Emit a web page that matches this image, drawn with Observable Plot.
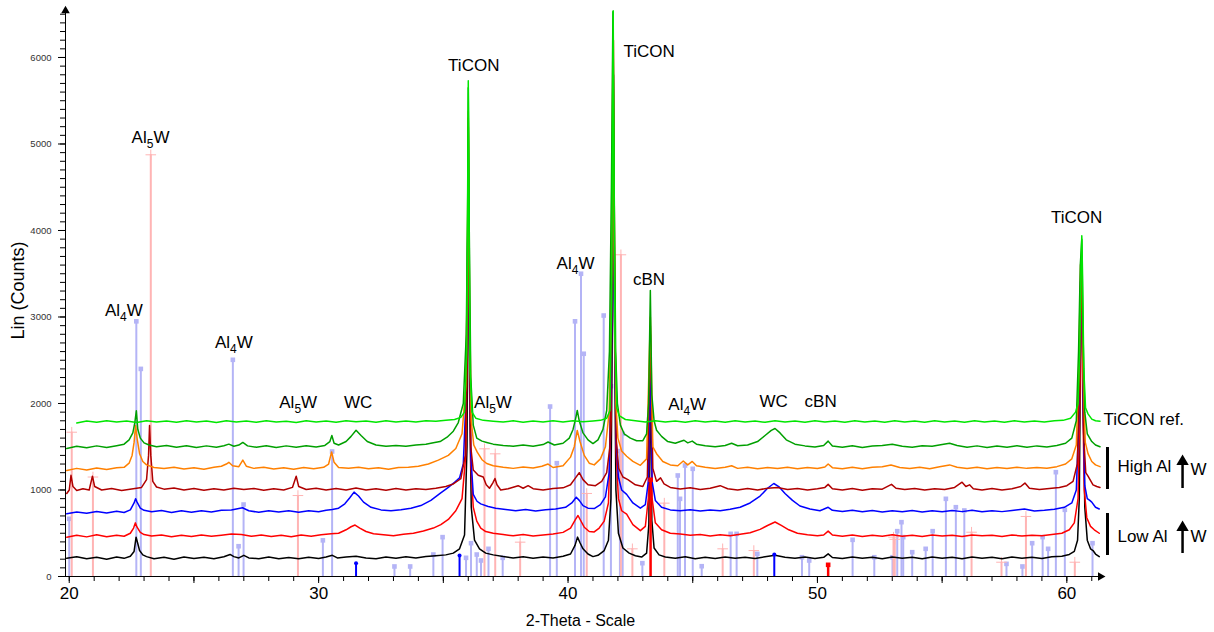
<!DOCTYPE html>
<html><head><meta charset="utf-8">
<script src="https://cdn.jsdelivr.net/npm/d3@7"></script>
<script src="https://cdn.jsdelivr.net/npm/@observablehq/plot@0.6"></script>
<style>body{margin:0;background:#fff;} #chart{width:1214px;height:632px;}</style>
</head><body><div id="chart"></div>
<script>
// ---- Data (2-Theta, Lin counts) ----
const blackScan = [[19.9,210],[20.3,228],[20.7,205],[21.1,222],[21.5,200],[21.9,225],[22.2,210],[22.45,235],[22.6,290],[22.68,455],[22.74,390],[22.82,300],[22.95,250],[23.1,230],[23.4,205],[23.8,222],[24.2,200],[24.6,225],[25.0,208],[25.4,222],[25.8,205],[26.2,228],[26.45,255],[26.6,230],[26.8,215],[27.0,245],[27.2,215],[27.6,205],[28.0,225],[28.4,205],[28.8,220],[29.2,205],[29.6,222],[30.0,208],[30.3,225],[30.55,245],[30.75,215],[31.1,225],[31.5,235],[31.9,215],[32.3,205],[32.7,225],[33.1,210],[33.5,228],[33.9,215],[34.3,230],[34.7,240],[35.1,250],[35.4,270],[35.65,320],[35.85,480],[35.95,1500],[36.0,4800],[36.05,2200],[36.12,800],[36.25,420],[36.45,320],[36.7,270],[37.0,250],[37.4,230],[37.8,215],[38.2,228],[38.6,210],[39.0,225],[39.4,215],[39.8,235],[40.1,260],[40.28,360],[40.38,455],[40.48,390],[40.6,320],[40.8,260],[41.0,230],[41.2,245],[41.45,300],[41.62,420],[41.72,900],[41.78,3000],[41.82,5800],[41.86,3000],[41.92,1000],[42.02,500],[42.2,330],[42.45,270],[42.7,240],[42.95,225],[43.15,270],[43.24,600],[43.3,2500],[43.36,650],[43.45,330],[43.65,250],[43.9,225],[44.3,210],[44.7,228],[45.1,205],[45.5,222],[45.9,208],[46.3,225],[46.7,210],[47.1,222],[47.5,208],[47.9,228],[48.3,245],[48.7,222],[49.1,210],[49.5,225],[49.9,208],[50.25,222],[50.43,262],[50.6,220],[51.0,208],[51.4,225],[51.8,210],[52.2,222],[52.6,205],[53.0,225],[53.4,210],[53.8,222],[54.2,205],[54.6,225],[55.0,210],[55.4,222],[55.8,205],[56.2,225],[56.6,210],[57.0,222],[57.4,205],[57.8,225],[58.2,210],[58.6,222],[59.0,208],[59.4,228],[59.8,235],[60.1,255],[60.3,290],[60.43,420],[60.5,900],[60.56,3000],[60.6,3500],[60.65,2200],[60.72,800],[60.82,420],[60.95,320],[61.05,300],[61.15,260],[61.3,230]];

const redScan = [[19.9,455],[20.3,478],[20.7,458],[21.1,482],[21.5,460],[21.9,478],[22.2,465],[22.45,500],[22.58,560],[22.65,620],[22.72,570],[22.85,510],[23.0,485],[23.3,468],[23.7,480],[24.1,460],[24.5,478],[24.9,462],[25.3,480],[25.7,465],[26.1,478],[26.5,490],[26.9,485],[27.3,465],[27.7,480],[28.1,462],[28.5,478],[28.9,460],[29.3,480],[29.7,465],[30.1,482],[30.5,495],[30.8,500],[31.1,540],[31.3,575],[31.46,595],[31.65,560],[31.9,520],[32.2,495],[32.6,482],[33.0,470],[33.4,488],[33.8,500],[34.2,525],[34.6,560],[34.9,600],[35.2,660],[35.5,760],[35.75,900],[35.9,1400],[35.97,3000],[36.0,5300],[36.04,3000],[36.1,1300],[36.2,800],[36.34,640],[36.5,560],[36.7,520],[37.0,500],[37.4,485],[37.8,470],[38.2,485],[38.6,468],[39.0,480],[39.4,490],[39.8,510],[40.1,560],[40.3,660],[40.4,705],[40.5,650],[40.65,570],[40.85,520],[41.05,515],[41.25,560],[41.45,640],[41.62,850],[41.72,1800],[41.78,4000],[41.82,6200],[41.86,4000],[41.92,1500],[42.02,900],[42.15,760],[42.35,720],[42.6,600],[42.9,530],[43.1,580],[43.22,900],[43.3,2900],[43.37,900],[43.5,620],[43.75,540],[44.1,500],[44.5,490],[44.9,478],[45.3,485],[45.7,468],[46.1,482],[46.5,470],[46.9,488],[47.3,505],[47.7,545],[48.0,590],[48.3,630],[48.55,590],[48.85,540],[49.2,500],[49.6,482],[50.0,470],[50.25,480],[50.43,525],[50.6,480],[51.0,465],[51.4,480],[51.8,462],[52.2,478],[52.6,465],[53.0,482],[53.4,465],[53.8,478],[54.2,462],[54.6,480],[55.0,468],[55.4,478],[55.8,462],[56.2,480],[56.6,470],[57.0,478],[57.4,462],[57.8,480],[58.2,468],[58.6,478],[59.0,470],[59.4,485],[59.8,500],[60.1,540],[60.3,620],[60.45,900],[60.52,2000],[60.58,3600],[60.63,2200],[60.7,1000],[60.8,680],[60.95,580],[61.1,540],[61.3,500]];

const blueScan = [[19.9,725],[20.3,745],[20.7,730],[21.1,752],[21.5,735],[21.9,755],[22.2,740],[22.45,770],[22.6,850],[22.66,900],[22.72,860],[22.85,790],[23.0,765],[23.3,748],[23.7,762],[24.1,740],[24.5,760],[24.9,742],[25.3,760],[25.7,745],[26.1,765],[26.5,770],[26.95,795],[27.2,760],[27.6,742],[28.0,760],[28.4,745],[28.8,760],[29.2,742],[29.6,760],[30.0,748],[30.3,765],[30.55,775],[30.8,790],[31.05,840],[31.25,910],[31.42,975],[31.6,930],[31.8,860],[32.1,800],[32.5,770],[32.9,760],[33.3,772],[33.7,790],[34.1,820],[34.5,880],[34.87,960],[35.2,1030],[35.45,1090],[35.65,1140],[35.8,1300],[35.9,2000],[35.96,3500],[36.0,4400],[36.04,3000],[36.1,1400],[36.2,950],[36.35,870],[36.5,840],[36.8,810],[37.1,790],[37.5,775],[37.9,760],[38.3,775],[38.7,758],[39.1,772],[39.5,780],[39.9,800],[40.15,850],[40.33,917],[40.45,880],[40.6,820],[40.8,790],[41.05,785],[41.3,830],[41.5,920],[41.65,1200],[41.74,2500],[41.8,5500],[41.85,3500],[41.92,1600],[42.02,1150],[42.15,1000],[42.35,950],[42.6,850],[42.9,790],[43.1,830],[43.22,1100],[43.3,2613],[43.37,1100],[43.5,880],[43.75,800],[44.1,770],[44.5,760],[44.9,772],[45.3,758],[45.7,770],[46.1,760],[46.5,778],[46.9,800],[47.3,850],[47.7,930],[48.0,1020],[48.25,1075],[48.45,1040],[48.7,960],[49.0,880],[49.3,815],[49.7,780],[50.1,760],[50.43,800],[50.6,765],[51.0,752],[51.4,765],[51.8,748],[52.2,762],[52.6,745],[53.0,760],[53.4,748],[53.8,762],[54.2,745],[54.6,760],[55.0,748],[55.4,762],[55.8,750],[56.2,765],[56.6,748],[57.0,760],[57.4,750],[57.8,762],[58.3,780],[58.7,758],[59.1,765],[59.5,778],[59.9,800],[60.2,850],[60.38,1000],[60.48,1800],[60.55,3400],[60.6,3500],[60.65,2000],[60.72,1050],[60.82,900],[60.92,880],[61.0,860],[61.15,800],[61.3,780]];

const darkRedScan = [[19.9,960],[20.0,1000],[20.07,1170],[20.15,1040],[20.3,995],[20.55,1015],[20.8,1000],[20.93,1160],[21.02,1040],[21.3,1000],[21.7,1018],[22.1,995],[22.5,1012],[22.9,1030],[23.1,1120],[23.18,1400],[23.22,1745],[23.27,1400],[23.35,1100],[23.5,1035],[23.8,1010],[24.2,1022],[24.6,1000],[25.0,1018],[25.4,998],[25.8,1015],[26.2,1000],[26.6,1020],[27.0,1005],[27.4,1018],[27.8,998],[28.2,1015],[28.6,1000],[28.95,1030],[29.1,1160],[29.2,1040],[29.5,1005],[29.9,1020],[30.3,1000],[30.7,1018],[31.1,1000],[31.5,1022],[31.9,1000],[32.3,1015],[32.7,998],[33.1,1018],[33.5,1000],[33.9,1015],[34.3,1005],[34.7,1020],[35.1,1040],[35.4,1070],[35.7,1130],[35.88,1400],[35.96,3000],[36.0,5200],[36.04,3000],[36.1,1500],[36.2,1230],[36.4,1170],[36.6,1150],[36.72,1060],[36.85,1020],[36.98,1080],[37.07,1133],[37.15,1060],[37.3,1000],[37.6,1015],[38.0,1050],[38.2,1020],[38.4,1050],[38.6,1015],[39.0,1000],[39.4,1018],[39.8,1025],[40.1,1060],[40.3,1140],[40.45,1200],[40.6,1120],[40.8,1060],[41.1,1050],[41.35,1100],[41.55,1200],[41.68,1500],[41.76,3500],[41.81,6000],[41.86,3500],[41.93,1600],[42.03,1250],[42.2,1150],[42.4,1120],[42.7,1060],[43.0,1040],[43.18,1150],[43.3,2800],[43.4,1250],[43.55,1100],[43.71,1140],[43.85,1070],[44.1,1030],[44.5,1012],[44.9,1025],[45.3,1005],[45.7,1020],[46.1,1050],[46.4,1015],[46.8,1000],[47.2,1018],[47.6,1000],[48.0,1020],[48.4,1030],[48.8,1005],[49.2,1018],[49.6,1000],[50.0,1015],[50.3,1030],[50.43,1065],[50.6,1015],[51.0,1000],[51.4,1018],[51.8,998],[52.2,1015],[52.6,1010],[52.97,1065],[53.15,1020],[53.5,1005],[53.9,1018],[54.3,1000],[54.7,1015],[55.1,1005],[55.5,1030],[55.7,1070],[55.8,1090],[55.95,1040],[56.1,1060],[56.25,1015],[56.6,1000],[57.0,1018],[57.4,1000],[57.8,1015],[58.15,1040],[58.32,1080],[58.5,1020],[58.9,1005],[59.3,1018],[59.7,1030],[60.0,1050],[60.25,1100],[60.42,1300],[60.5,2200],[60.57,3500],[60.62,3000],[60.68,1600],[60.76,1200],[60.85,1160],[60.93,1120],[61.05,1060],[61.2,1040],[61.33,1030]];

const orangeScan = [[19.9,1225],[20.3,1250],[20.7,1232],[21.1,1255],[21.5,1238],[21.9,1258],[22.2,1262],[22.4,1310],[22.52,1400],[22.6,1550],[22.66,1745],[22.72,1600],[22.82,1420],[22.95,1330],[23.1,1290],[23.4,1260],[23.8,1248],[24.2,1262],[24.6,1242],[25.0,1258],[25.4,1240],[25.8,1262],[26.1,1275],[26.3,1300],[26.4,1320],[26.55,1280],[26.8,1270],[26.96,1345],[27.1,1275],[27.4,1250],[27.8,1262],[28.2,1242],[28.6,1258],[29.0,1240],[29.4,1260],[29.8,1245],[30.2,1262],[30.4,1300],[30.52,1440],[30.62,1320],[30.8,1260],[31.2,1252],[31.6,1262],[32.0,1245],[32.4,1258],[32.8,1240],[33.2,1260],[33.6,1262],[34.0,1275],[34.4,1300],[34.8,1345],[35.2,1400],[35.5,1480],[35.75,1650],[35.9,2200],[35.96,3500],[36.0,5380],[36.05,3200],[36.12,1800],[36.22,1520],[36.36,1437],[36.55,1350],[36.74,1306],[37.0,1280],[37.4,1262],[37.8,1250],[38.2,1265],[38.6,1255],[38.95,1275],[39.2,1300],[39.4,1260],[39.8,1280],[40.1,1380],[40.25,1500],[40.37,1688],[40.48,1560],[40.65,1400],[40.85,1310],[41.05,1290],[41.3,1360],[41.5,1500],[41.65,1900],[41.74,3500],[41.8,6300],[41.85,3800],[41.92,2000],[42.0,1600],[42.15,1450],[42.35,1390],[42.6,1330],[42.9,1285],[43.15,1360],[43.3,3000],[43.4,1500],[43.55,1420],[43.8,1330],[44.1,1290],[44.4,1280],[44.62,1335],[44.8,1290],[44.98,1330],[45.15,1280],[45.5,1262],[45.9,1248],[46.3,1262],[46.56,1280],[46.8,1250],[47.2,1262],[47.6,1245],[48.0,1260],[48.4,1248],[48.8,1262],[49.2,1245],[49.6,1260],[50.0,1248],[50.3,1265],[50.43,1300],[50.6,1258],[51.0,1245],[51.4,1262],[51.8,1245],[52.2,1262],[52.6,1268],[52.95,1290],[53.3,1260],[53.7,1248],[54.1,1262],[54.5,1245],[54.9,1268],[55.3,1290],[55.6,1262],[56.0,1248],[56.4,1262],[56.8,1245],[57.2,1260],[57.6,1248],[58.0,1262],[58.4,1250],[58.8,1260],[59.2,1252],[59.6,1270],[59.95,1300],[60.2,1360],[60.38,1520],[60.48,2400],[60.55,3600],[60.6,3700],[60.66,2300],[60.74,1550],[60.85,1420],[61.0,1330],[61.15,1290],[61.33,1270]];

const greenScan = [[19.9,1480],[20.3,1505],[20.7,1488],[21.1,1510],[21.5,1490],[21.9,1512],[22.2,1530],[22.4,1580],[22.55,1660],[22.63,1780],[22.69,1915],[22.75,1700],[22.85,1600],[23.0,1545],[23.2,1520],[23.5,1500],[23.9,1515],[24.3,1495],[24.7,1512],[25.1,1490],[25.5,1510],[25.9,1495],[26.2,1512],[26.4,1530],[26.6,1505],[26.8,1520],[26.96,1550],[27.15,1510],[27.5,1495],[27.9,1512],[28.3,1492],[28.7,1510],[29.1,1495],[29.5,1512],[29.9,1498],[30.25,1515],[30.45,1560],[30.53,1630],[30.62,1540],[30.8,1520],[31.1,1560],[31.3,1620],[31.5,1690],[31.7,1630],[31.95,1560],[32.3,1520],[32.7,1505],[33.1,1515],[33.5,1505],[33.9,1520],[34.3,1530],[34.6,1545],[34.87,1560],[35.15,1610],[35.4,1680],[35.6,1780],[35.8,2000],[35.92,2800],[35.97,4200],[36.0,5650],[36.04,4000],[36.1,2300],[36.2,1750],[36.34,1600],[36.55,1565],[36.74,1550],[37.0,1530],[37.4,1515],[37.8,1505],[38.2,1520],[38.6,1505],[39.0,1525],[39.2,1555],[39.45,1520],[39.8,1540],[40.05,1600],[40.2,1700],[40.3,1820],[40.37,1919],[40.45,1800],[40.6,1660],[40.8,1580],[41.0,1537],[41.2,1580],[41.4,1700],[41.55,1919],[41.66,2600],[41.74,4500],[41.8,6530],[41.85,4500],[41.91,2600],[41.98,2000],[42.1,1750],[42.25,1650],[42.5,1600],[42.75,1570],[43.0,1570],[43.15,1650],[43.23,2000],[43.3,3306],[43.36,2100],[43.45,1800],[43.55,1690],[43.75,1620],[44.0,1560],[44.3,1540],[44.5,1560],[44.65,1575],[44.8,1545],[44.98,1565],[45.15,1530],[45.5,1512],[45.9,1500],[46.3,1515],[46.56,1540],[46.8,1512],[47.2,1520],[47.6,1560],[47.9,1630],[48.15,1690],[48.3,1711],[48.5,1660],[48.75,1580],[49.1,1530],[49.5,1510],[49.9,1498],[50.25,1515],[50.43,1565],[50.6,1508],[51.0,1495],[51.4,1512],[51.8,1492],[52.2,1508],[52.6,1515],[53.0,1530],[53.4,1505],[53.8,1495],[54.2,1512],[54.6,1505],[55.0,1525],[55.3,1540],[55.6,1515],[56.0,1495],[56.4,1510],[56.8,1492],[57.2,1508],[57.6,1495],[58.0,1512],[58.4,1495],[58.8,1510],[59.2,1498],[59.6,1515],[59.95,1540],[60.2,1600],[60.38,1800],[60.47,2600],[60.54,3600],[60.6,3900],[60.65,2800],[60.72,1900],[60.82,1650],[61.0,1560],[61.15,1520],[61.33,1500]];

const limeScan = [[20.3,1775],[20.7,1798],[21.1,1782],[21.5,1800],[21.9,1785],[22.3,1798],[22.7,1780],[23.1,1800],[23.5,1785],[23.9,1798],[24.3,1782],[24.7,1800],[25.1,1785],[25.5,1798],[25.9,1780],[26.3,1800],[26.7,1785],[27.1,1798],[27.5,1782],[27.9,1800],[28.3,1785],[28.7,1795],[29.1,1780],[29.5,1800],[29.9,1785],[30.3,1798],[30.7,1782],[31.1,1800],[31.5,1788],[31.9,1798],[32.3,1782],[32.7,1800],[33.1,1785],[33.5,1798],[33.9,1785],[34.3,1800],[34.7,1795],[35.1,1805],[35.45,1815],[35.7,1840],[35.85,1900],[35.94,2600],[35.98,4500],[36.0,5730],[36.03,4300],[36.07,2400],[36.15,1900],[36.3,1830],[36.6,1805],[37.0,1795],[37.4,1785],[37.8,1800],[38.2,1782],[38.6,1798],[39.0,1785],[39.4,1800],[39.8,1785],[40.2,1800],[40.6,1788],[41.0,1798],[41.3,1805],[41.55,1830],[41.68,1920],[41.75,3200],[41.79,5500],[41.81,6540],[41.84,5000],[41.88,2800],[41.95,1950],[42.05,1860],[42.3,1815],[42.7,1800],[43.1,1785],[43.5,1800],[43.9,1785],[44.3,1798],[44.7,1782],[45.1,1800],[45.5,1785],[45.9,1798],[46.3,1782],[46.7,1800],[47.1,1785],[47.5,1798],[47.9,1782],[48.3,1800],[48.7,1785],[49.1,1798],[49.5,1782],[49.9,1800],[50.3,1785],[50.7,1798],[51.1,1782],[51.5,1800],[51.9,1785],[52.3,1798],[52.7,1782],[53.1,1800],[53.5,1785],[53.9,1798],[54.3,1782],[54.7,1800],[55.1,1785],[55.5,1798],[55.9,1782],[56.3,1800],[56.7,1785],[57.1,1798],[57.5,1782],[57.9,1800],[58.3,1785],[58.7,1798],[59.1,1785],[59.5,1800],[59.85,1805],[60.15,1830],[60.35,1900],[60.45,2000],[60.52,2600],[60.57,3600],[60.6,3940],[60.63,3500],[60.68,2400],[60.75,1950],[60.85,1880],[61.0,1820],[61.15,1800],[61.33,1795]];

// Reference patterns (sticks): [2-Theta, counts]
const al4wSticks = [[20.0,667],[22.69,2950],[22.87,2400],[26.56,2505],[26.79,350],[26.99,832],[30.17,418],[30.54,1445],[33.04,116],[33.67,116],[34.6,254],[34.97,455],[35.91,216],[36.11,385],[36.34,254],[36.51,185],[36.81,320],[37.38,216],[39.28,1965],[39.55,1310],[40.28,2950],[40.52,3500],[40.63,2575],[41.43,3017],[41.72,2200],[42.08,1450],[42.19,1650],[42.98,154],[44.4,1168],[44.49,898],[44.69,1283],[45.0,1245],[45.36,119],[46.52,493],[46.76,493],[47.59,262],[49.38,223],[49.67,185],[51.41,424],[52.28,223],[53.01,223],[53.2,524],[53.37,628],[53.44,455],[53.8,281],[54.34,320],[54.62,524],[55.15,898],[55.55,801],[55.89,763],[57.58,146],[58.22,116],[58.61,385],[59.03,455],[59.25,320],[59.56,1206],[59.92,771],[61.03,385]];
const al5wSticks = [[20.1,1668],[20.95,1150],[23.27,4875],[29.17,936],[36.65,1476],[37.08,1418],[38.08,397],[40.75,960],[42.12,3719],[42.58,320],[43.86,848],[46.2,320],[47.45,300],[53.05,455],[53.1,430],[56.18,512],[57.38,165],[58.36,694],[60.32,165]];
const wcSticks = [[31.5,154],[35.65,243],[48.27,254]];
const cbnSticks = [[43.31,1118],[50.43,135]];

// Labels
const peakLabels = [
  {t:23.26,v:5075,text:"Al_5W"},{t:22.19,v:3075,text:"Al_4W"},{t:26.6,v:2699,text:"Al_4W"},
  {t:29.18,v:2012,text:"Al_5W"},{t:31.58,v:2012,text:"WC"},{t:36.22,v:5908,text:"TiCON"},
  {t:36.99,v:2012,text:"Al_5W"},{t:40.3,v:3618,text:"Al_4W"},{t:43.25,v:6069,text:"TiCON"},
  {t:43.25,v:3434,text:"cBN"},{t:44.78,v:1988,text:"Al_4W"},{t:48.24,v:2023,text:"WC"},
  {t:50.13,v:2023,text:"cBN"},{t:60.39,v:4150,text:"TiCON"}
];
const sideLabels = [
  {t:61.47,v:1815,text:"TiCON ref."},{t:62.03,v:1266,text:"High Al"},{t:64.96,v:1237,text:"W"},
  {t:62.03,v:457,text:"Low Al"},{t:64.96,v:462,text:"W"}
];
const sideBars = [{t:61.63,v1:1006,v2:1491},{t:61.63,v1:243,v2:728}];
const sideArrows = [{t:64.64,v1:1017,v2:1329},{t:64.64,v1:266,v2:566}];
const xTickLabels = [20,30,40,50,60];
const yTickLabels = [0,1000,2000,3000,4000,5000,6000];
const xTitle = "2-Theta - Scale";
const yTitle = "Lin (Counts)";

const X0 = 19.85, X1 = 61.35, YTOP = 6520;
const scans = [
  {data: blackScan, color: "#000000"},
  {data: redScan, color: "#ff0000"},
  {data: blueScan, color: "#0000ff"},
  {data: darkRedScan, color: "#b00000"},
  {data: orangeScan, color: "#ff8000"},
  {data: greenScan, color: "#00a000"},
  {data: limeScan, color: "#00e600"}
];
const FONT = "'Liberation Sans', Arial, Helvetica, sans-serif";

const stickMarks = (arr, color, symbol, r, w) => [
  Plot.ruleX(arr, {x: d => d[0], y1: 0, y2: d => d[1], stroke: color, strokeWidth: w}),
  Plot.dot(arr, {x: d => d[0], y: d => d[1], symbol, r, fill: symbol === "plus" ? "none" : color, stroke: symbol === "plus" ? color : "none", strokeWidth: 1})
];

const chart = Plot.plot({
  width: 1214, height: 632,
  marginLeft: 65, marginRight: 114, marginTop: 12, marginBottom: 56,
  x: {domain: [X0, X1], label: null},
  y: {domain: [0, YTOP], label: null},
  style: {fontFamily: FONT, background: "#fff", overflow: "visible"},
  marks: [
    ...stickMarks(al4wSticks, "#b4b4f6", "square", 2.6, 2),
    ...stickMarks(al5wSticks, "#ffb4b4", "plus", 3.5, 2),
    ...scans.map(s => Plot.line(s.data, {x: d => d[0], y: d => d[1], stroke: s.color, strokeWidth: 1.5})),
    ...stickMarks(wcSticks, "#0000ff", "circle", 2, 2),
    ...stickMarks(cbnSticks, "#ff0000", "square", 2.6, 2.5),
    // axes
    Plot.axisY({ticks: d3.range(0, 6501, 100), tickSize: 5, tickFormat: () => "", label: null}),
    Plot.axisY({ticks: yTickLabels, tickSize: 7, tickFormat: () => "", label: null}),
    Plot.axisX({ticks: d3.range(20, 62, 1), tickSize: 5, tickFormat: () => "", label: null}),
    Plot.axisX({ticks: d3.range(20, 62, 5), tickSize: 7, tickFormat: () => "", label: null}),
    Plot.ruleX([X0], {y1: 0, y2: YTOP + 30, stroke: "#000", strokeWidth: 1}),
    Plot.ruleY([0], {x1: X0, x2: X1, stroke: "#000", strokeWidth: 1}),
    Plot.dot([[X0, YTOP + 20]], {x: d => d[0], y: d => d[1], symbol: "triangle", r: 3.2, fill: "#000"}),
    Plot.dot([[X1, 0]], {x: d => d[0], y: d => d[1], symbol: "triangle", r: 3.2, fill: "#000", rotate: 90}),
    Plot.text(yTickLabels, {x: X0, y: d => d, dx: -14, text: d => String(d), textAnchor: "end", fontSize: 9.5, fill: "#333"}),
    Plot.text(xTickLabels, {x: d => d, y: 0, dy: 17, text: d => String(d), fontSize: 17, fill: "#000"}),
    Plot.text([xTitle], {x: 40.5, y: 0, dy: 44, text: d => d, fontSize: 16, fill: "#000"}),
    Plot.text([yTitle], {x: X0, y: 3306, dx: -47, text: d => d, rotate: -90, fontSize: 18, fill: "#000"}),
    // annotations
    Plot.text(peakLabels, {x: "t", y: "v", text: "text", fontSize: 17, fill: "#000"}),
    Plot.text(sideLabels, {x: "t", y: "v", text: "text", fontSize: 17, fill: "#000", textAnchor: "start"}),
    Plot.ruleX(sideBars, {x: "t", y1: "v1", y2: "v2", stroke: "#000", strokeWidth: 3}),
    Plot.ruleX(sideArrows, {x: "t", y1: "v1", y2: "v2", stroke: "#000", strokeWidth: 2.5}),
    Plot.dot(sideArrows, {x: "t", y: "v2", symbol: "triangle", r: 4.6, fill: "#000"})
  ]
});

// subscripts: "Al_5W" -> Al<sub>5</sub>W
const NS = "http://www.w3.org/2000/svg";
chart.querySelectorAll("text").forEach(t => {
  const m = (t.textContent || "").match(/^(.*)_(\d)(.*)$/);
  if (!m) return;
  t.textContent = "";
  const a = document.createElementNS(NS, "tspan"); a.textContent = m[1];
  const b = document.createElementNS(NS, "tspan"); b.textContent = m[2];
  b.setAttribute("font-size", "12"); b.setAttribute("dy", "5");
  const c = document.createElementNS(NS, "tspan"); c.textContent = m[3]; c.setAttribute("dy", "-5");
  t.append(a, b, c);
});
document.getElementById("chart").append(chart);
</script>
</body></html>
